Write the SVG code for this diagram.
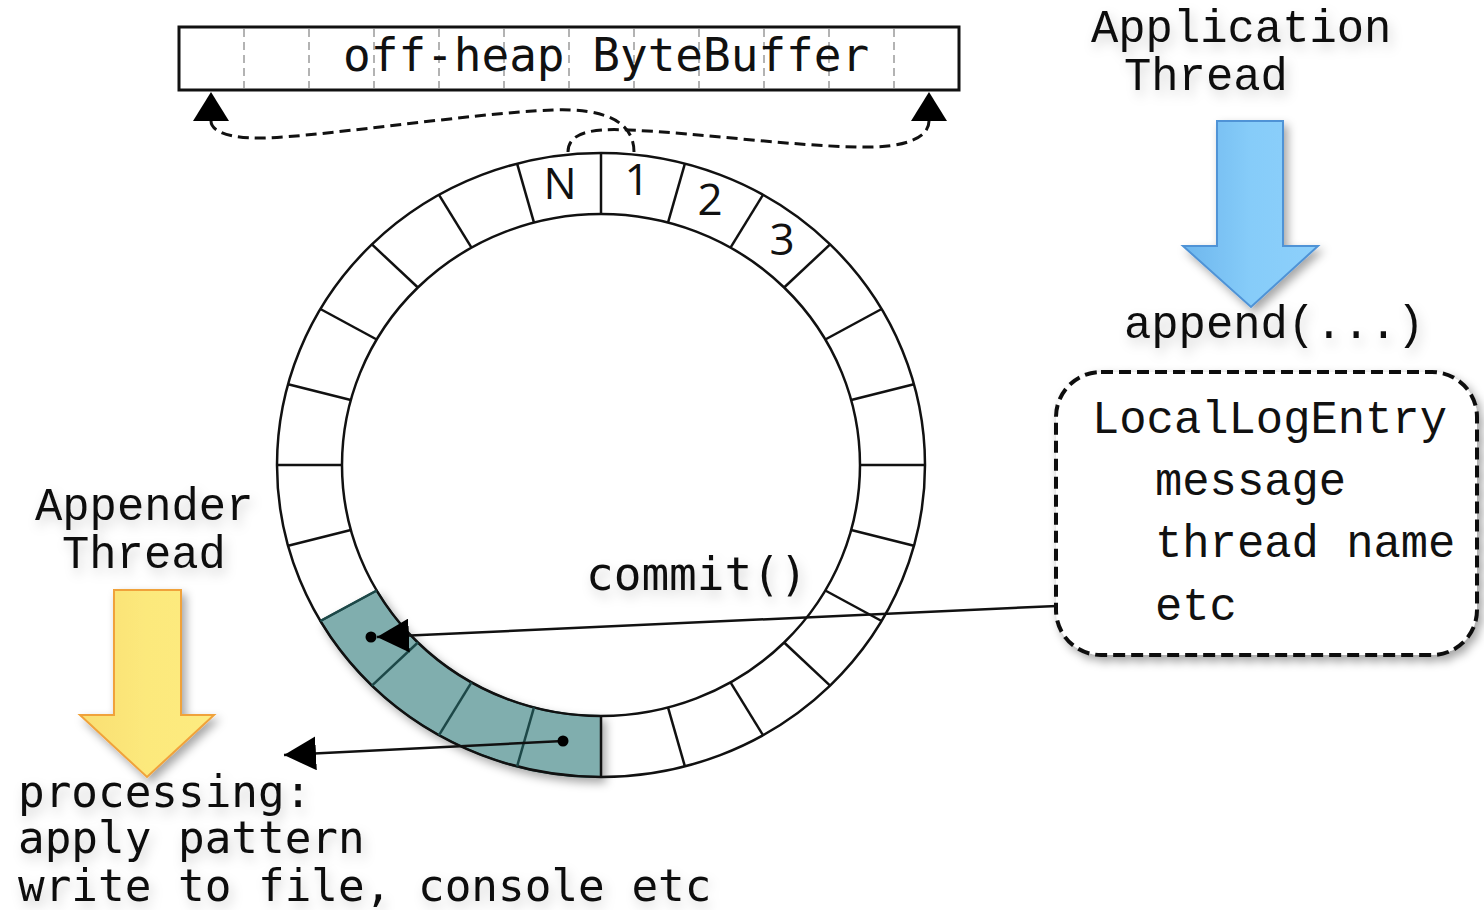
<svg xmlns="http://www.w3.org/2000/svg" width="1484" height="910" viewBox="0 0 1484 910">
<defs>
<style>
.mono{font-family:"Liberation Mono","Courier New",monospace;font-size:45.5px;fill:#111}
.sm{font-family:"DejaVu Sans Mono","Liberation Mono",monospace;font-size:46px;fill:#111}
.pm{font-family:"DejaVu Sans Mono","Liberation Mono",monospace;font-size:44.3px;fill:#111}
.num{font-family:"Open Sans","Noto Sans",sans-serif;font-size:44px;fill:#111;text-anchor:middle}
.ring{fill:none;stroke:#111;stroke-width:2.5}
.div{stroke:#111;stroke-width:2.5}
.divt{stroke:#1d4848;stroke-width:2.5}
.cell{stroke:#9a9a9a;stroke-width:1.5;stroke-dasharray:8 5}
.conn{fill:none;stroke:#111;stroke-width:2.5}
.dash{fill:none;stroke:#111;stroke-width:3;stroke-dasharray:11 6}
.tsh{filter:url(#tshadow)}
</style>
<filter id="shadow" x="-20%" y="-20%" width="150%" height="150%"><feDropShadow dx="4" dy="5" stdDeviation="5" flood-color="#000" flood-opacity="0.35"/></filter>
<filter id="tshadow" x="-10%" y="-40%" width="130%" height="200%"><feDropShadow dx="3" dy="6" stdDeviation="6" flood-color="#000" flood-opacity="0.18"/></filter>
<linearGradient id="blue" x1="0" y1="0" x2="1" y2="0"><stop offset="0" stop-color="#6db6ed"/><stop offset="0.5" stop-color="#86ccf9"/><stop offset="1" stop-color="#8dd0fb"/></linearGradient>
<linearGradient id="yellow" x1="0" y1="0" x2="1" y2="0"><stop offset="0" stop-color="#f9de72"/><stop offset="0.5" stop-color="#fce97c"/><stop offset="1" stop-color="#fdeb80"/></linearGradient>
<marker id="ah" viewBox="0 -17 32 34" refX="32" refY="0" markerWidth="32" markerHeight="34" markerUnits="userSpaceOnUse" orient="auto"><path d="M0,-17 L32,0 L0,17 Z" fill="#000"/></marker>
<marker id="ahb" viewBox="0 -18 29 36" refX="0" refY="0" markerWidth="29" markerHeight="36" markerUnits="userSpaceOnUse" orient="auto"><path d="M0,-18 L29,0 L0,18 Z" fill="#000"/></marker>
</defs>
<rect width="1484" height="910" fill="#fff"/>

<g id="bytebuffer">
<rect x="179" y="27" width="780" height="63" fill="#fff" stroke="#111" stroke-width="3"/>
<line class="cell" x1="244" y1="29" x2="244" y2="88"/>
<line class="cell" x1="309" y1="29" x2="309" y2="88"/>
<line class="cell" x1="374" y1="29" x2="374" y2="88"/>
<line class="cell" x1="439" y1="29" x2="439" y2="88"/>
<line class="cell" x1="504" y1="29" x2="504" y2="88"/>
<line class="cell" x1="569" y1="29" x2="569" y2="88"/>
<line class="cell" x1="634" y1="29" x2="634" y2="88"/>
<line class="cell" x1="699" y1="29" x2="699" y2="88"/>
<line class="cell" x1="764" y1="29" x2="764" y2="88"/>
<line class="cell" x1="829" y1="29" x2="829" y2="88"/>
<line class="cell" x1="894" y1="29" x2="894" y2="88"/>
<text class="sm" x="343" y="71">off-heap ByteBuffer</text>
</g>

<g id="ring">
<path d="M601,777 A324,312 0 0 1 320.4,621 L376.7,590.5 A259,251 0 0 0 601,716 Z" fill="#80aeae" stroke="#1d4848" stroke-width="2" filter="url(#shadow)"/>
<ellipse class="ring" cx="601" cy="465" rx="324" ry="312"/>
<ellipse class="ring" cx="601" cy="465" rx="259" ry="251"/>
<line class="div" x1="601" y1="153" x2="601" y2="214"/>
<line class="div" x1="684.9" y1="163.6" x2="668" y2="222.6"/>
<line class="div" x1="763" y1="194.8" x2="730.5" y2="247.6"/>
<line class="div" x1="830.1" y1="244.4" x2="784.1" y2="287.5"/>
<line class="div" x1="881.6" y1="309" x2="825.3" y2="339.5"/>
<line class="div" x1="913.9" y1="384.3" x2="851.2" y2="400"/>
<line class="div" x1="925" y1="465" x2="860" y2="465"/>
<line class="div" x1="913.9" y1="545.7" x2="851.2" y2="530"/>
<line class="div" x1="881.6" y1="621" x2="825.3" y2="590.5"/>
<line class="div" x1="830.1" y1="685.6" x2="784.1" y2="642.5"/>
<line class="div" x1="763" y1="735.2" x2="730.5" y2="682.4"/>
<line class="div" x1="684.9" y1="766.4" x2="668" y2="707.4"/>
<line class="div" x1="601" y1="777" x2="601" y2="716"/>
<line class="divt" x1="517.1" y1="766.4" x2="534" y2="707.4"/>
<line class="divt" x1="439" y1="735.2" x2="471.5" y2="682.4"/>
<line class="divt" x1="371.9" y1="685.6" x2="417.9" y2="642.5"/>
<line class="divt" x1="320.4" y1="621" x2="376.7" y2="590.5"/>
<line class="div" x1="288.1" y1="545.7" x2="350.8" y2="530"/>
<line class="div" x1="277" y1="465" x2="342" y2="465"/>
<line class="div" x1="288.1" y1="384.3" x2="350.8" y2="400"/>
<line class="div" x1="320.4" y1="309" x2="376.7" y2="339.5"/>
<line class="div" x1="371.9" y1="244.4" x2="417.9" y2="287.5"/>
<line class="div" x1="439" y1="194.8" x2="471.5" y2="247.6"/>
<line class="div" x1="517.1" y1="163.6" x2="534" y2="222.6"/>
<text class="num" x="560" y="199">N</text>
<text class="num" x="637" y="195">1</text>
<text class="num" x="710" y="215">2</text>
<text class="num" x="782" y="255">3</text>
</g>

<g id="application-thread">
<text class="mono tsh" x="1091" y="42">Application</text>
<text class="mono tsh" x="1124" y="90">Thread</text>
<path d="M1217,121 L1283,121 L1283,246 L1318,246 L1251,307 L1183,246 L1217,246 Z" fill="url(#blue)" stroke="#4f93d6" stroke-width="2" filter="url(#shadow)"/>
</g>

<g id="append-label">
<text class="mono tsh" x="1124" y="338">append(...)</text>
</g>

<g id="local-log-entry">
<rect x="1056" y="372" width="421" height="283" rx="45" ry="45" fill="#fff" stroke="#111" stroke-width="4" stroke-dasharray="12 6" filter="url(#shadow)"/>
<text class="mono" x="1092" y="433">LocalLogEntry</text>
<text class="mono" x="1155" y="495">message</text>
<text class="mono" x="1155" y="557">thread name</text>
<text class="mono" x="1155" y="620">etc</text>
</g>

<g id="appender-thread">
<text class="mono tsh" x="35" y="520">Appender</text>
<text class="mono tsh" x="62" y="568">Thread</text>
<path d="M114,590 L181,590 L181,715 L214,715 L147,777 L80,715 L114,715 Z" fill="url(#yellow)" stroke="#f0a23a" stroke-width="2" filter="url(#shadow)"/>
</g>

<g id="processing">
<text class="pm tsh" x="18" y="807">processing:</text>
<text class="pm tsh" x="18" y="853">apply pattern</text>
<text class="pm tsh" x="18" y="901">write to file, console etc</text>
</g>

<g id="commit-label">
<text class="sm tsh" x="586" y="590">commit()</text>
</g>

<g id="connectors">
<path class="dash" d="M634,152 C634,122 605,108 553,110 C470,113 300,140 252,138 C225,137 211,130 211,121" marker-end="url(#ahb)"/>
<path class="dash" d="M568,152 C568,133 590,128 629,130 C700,133 790,146 860,147 C905,148 929,138 929,121" marker-end="url(#ahb)"/>
<path class="conn" d="M1057,606 L377,637" marker-end="url(#ah)"/>
<circle cx="371" cy="637" r="5.5" fill="#000"/>
<path class="conn" d="M563,741 L284,755" marker-end="url(#ah)"/>
<circle cx="563" cy="741" r="5.5" fill="#000"/>
</g>
</svg>
